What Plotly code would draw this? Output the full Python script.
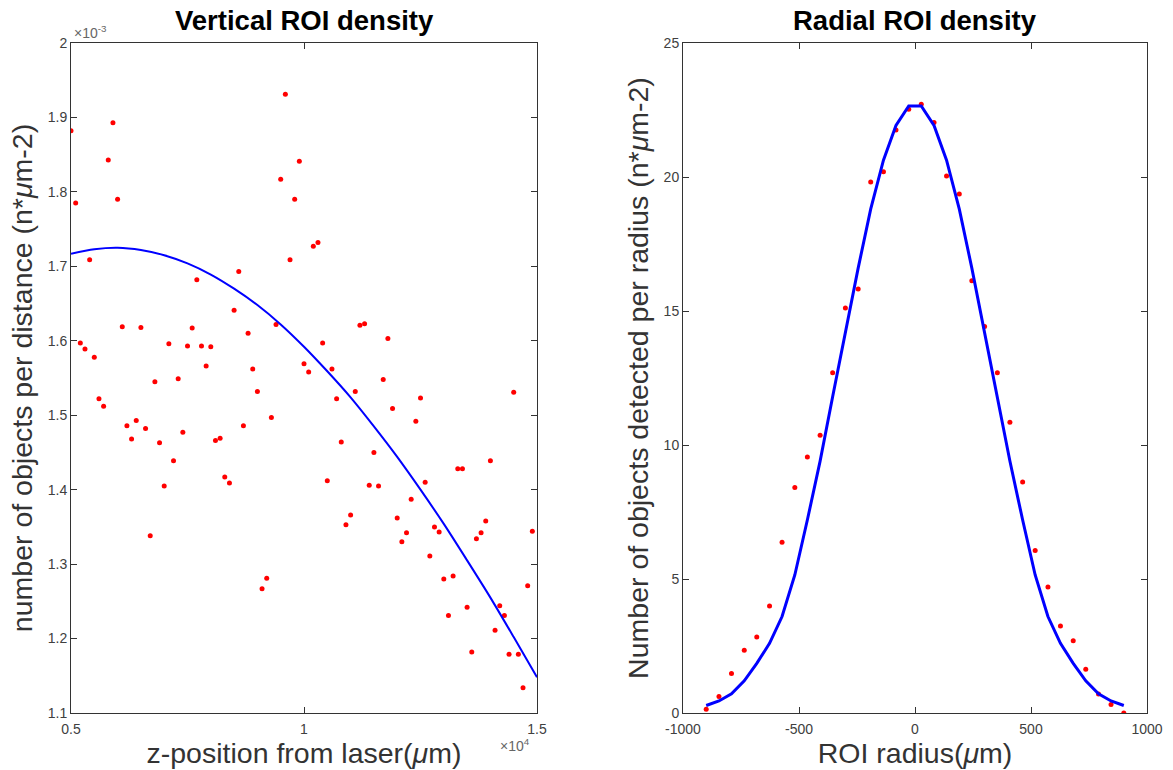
import plotly.graph_objects as go

# ---------------- Left panel: vertical ROI density ----------------
z_pos = [5000, 5100, 5200, 5300, 5400, 5500, 5600, 5700, 5800, 5900,
         6000, 6100, 6200, 6300, 6400, 6500, 6600, 6700, 6800, 6900,
         7000, 7100, 7200, 7300, 7400, 7500, 7600, 7700, 7800, 7900,
         8000, 8100, 8200, 8300, 8400, 8500, 8600, 8700, 8800, 8900,
         9000, 9100, 9200, 9300, 9400, 9500, 9600, 9700, 9800, 9900,
         10000, 10100, 10200, 10300, 10400, 10500, 10600, 10700, 10800, 10900,
         11000, 11100, 11200, 11300, 11400, 11500, 11600, 11700, 11800, 11900,
         12000, 12100, 12200, 12300, 12400, 12500, 12600, 12700, 12800, 12900,
         13000, 13100, 13200, 13300, 13400, 13500, 13600, 13700, 13800, 13900,
         14000, 14100, 14200, 14300, 14400, 14500, 14600, 14700, 14800, 14900]
# density values in units of 1e-3
density = [1.882, 1.785, 1.597, 1.589, 1.709, 1.578, 1.522, 1.512, 1.843, 1.893,
           1.790, 1.619, 1.486, 1.468, 1.493, 1.618, 1.482, 1.338, 1.545, 1.463,
           1.405, 1.596, 1.439, 1.549, 1.477, 1.593, 1.617, 1.682, 1.593, 1.566,
           1.592, 1.466, 1.469, 1.417, 1.409, 1.641, 1.693, 1.486, 1.610, 1.562,
           1.532, 1.267, 1.281, 1.497, 1.622, 1.817, 1.931, 1.709, 1.790, 1.841,
           1.569, 1.558, 1.727, 1.732, 1.597, 1.412, 1.562, 1.522, 1.464, 1.353,
           1.366, 1.532, 1.621, 1.623, 1.406, 1.450, 1.405, 1.548, 1.603, 1.509,
           1.362, 1.330, 1.342, 1.387, 1.492, 1.523, 1.410, 1.311, 1.350, 1.343,
           1.280, 1.231, 1.284, 1.428, 1.428, 1.242, 1.182, 1.334, 1.342, 1.358,
           1.439, 1.211, 1.244, 1.231, 1.179, 1.531, 1.179, 1.134, 1.271, 1.344]
# fitted curve, every 500 um
fit_z = [5000, 5500, 6000, 6500, 7000, 7500, 8000, 8500, 9000, 9500, 10000,
         10500, 11000, 11500, 12000, 12500, 13000, 13500, 14000, 14500, 15000]
fit_density = [1.717, 1.723, 1.725, 1.722, 1.715, 1.704, 1.689, 1.670, 1.648, 1.622,
               1.592, 1.559, 1.524, 1.485, 1.444, 1.400, 1.354, 1.305, 1.255, 1.202, 1.148]

left_xticks = [5000, 10000, 15000]
left_xticktext = ["0.5", "1", "1.5"]
left_yticks = [1.1, 1.2, 1.3, 1.4, 1.5, 1.6, 1.7, 1.8, 1.9, 2.0]
left_yticktext = ["1.1", "1.2", "1.3", "1.4", "1.5", "1.6", "1.7", "1.8", "1.9", "2"]

# ---------------- Right panel: radial ROI density ----------------
radius = [-900, -845, -791, -736, -682, -627, -573, -518, -464, -409, -355, -300,
          -245, -191, -136, -82, -27, 27, 82, 136, 191, 245, 300, 355, 409, 464,
          518, 573, 627, 682, 736, 791, 845, 900]
radial_count = [0.14, 0.62, 1.47, 2.34, 2.84, 3.99, 6.37, 8.41, 9.55, 10.36, 12.70,
                15.11, 15.82, 19.81, 20.20, 21.75, 22.53, 22.71, 22.03, 20.04, 19.37,
                16.13, 14.42, 12.70, 10.85, 8.62, 6.06, 4.70, 3.25, 2.70, 1.63, 0.71,
                0.32, 0.00]
radial_fit = [0.28, 0.45, 0.72, 1.20, 1.85, 2.60, 3.60, 5.15, 7.20, 9.40, 11.80,
              14.20, 16.60, 18.80, 20.63, 21.92, 22.65, 22.65, 21.92, 20.63, 18.80,
              16.60, 14.20, 11.80, 9.40, 7.20, 5.15, 3.60, 2.60, 1.85, 1.20, 0.72,
              0.45, 0.28]

right_xticks = [-1000, -500, 0, 500, 1000]
right_xticktext = ["-1000", "-500", "0", "500", "1000"]
right_yticks = [0, 5, 10, 15, 20, 25]
right_yticktext = ["0", "5", "10", "15", "20", "25"]

FONT = "Liberation Sans, Arial, Helvetica, sans-serif"
AXC = "#333333"
TICKC = "#404040"
TITLE_SIZE = 28.5

fig = go.Figure()
fig.add_trace(go.Scatter(x=z_pos, y=density, mode="markers",
                         marker=dict(color="#ff0000", size=5),
                         xaxis="x", yaxis="y", showlegend=False))
fig.add_trace(go.Scatter(x=fit_z, y=fit_density, mode="lines",
                         line=dict(color="#0000ff", width=2, shape="spline", smoothing=0.8),
                         xaxis="x", yaxis="y", showlegend=False))
fig.add_trace(go.Scatter(x=radius, y=radial_count, mode="markers",
                         marker=dict(color="#ff0000", size=5),
                         xaxis="x2", yaxis="y2", showlegend=False))
fig.add_trace(go.Scatter(x=radius, y=radial_fit, mode="lines",
                         line=dict(color="#0000ff", width=3),
                         xaxis="x2", yaxis="y2", showlegend=False))

W, H = 1173, 770
ydom = [(H - 713) / H, (H - 43) / H]

common_axis = dict(showline=True, linecolor=AXC, linewidth=1, mirror="ticks",
                   ticks="inside", ticklen=6, tickcolor=AXC, showgrid=False,
                   zeroline=False, automargin=False,
                   tickfont=dict(family=FONT, size=14, color=TICKC))

fig.update_layout(
    width=W, height=H,
    margin=dict(l=0, r=0, t=0, b=0, autoexpand=False),
    paper_bgcolor="white", plot_bgcolor="white",
    font=dict(family=FONT, color=AXC),
    xaxis=dict(domain=[71 / W, 537 / W], range=[5000, 15000],
               tickvals=left_xticks, ticktext=left_xticktext, ticklabelstandoff=3,
               title=dict(text="z-position from laser(<i>μ</i>m)",
                          font=dict(family=FONT, size=TITLE_SIZE, color=AXC), standoff=0),
               anchor="y", **common_axis),
    yaxis=dict(domain=ydom, range=[1.1, 2.0],
               tickvals=left_yticks, ticktext=left_yticktext,
               title=dict(text="number of objects per distance (n*<i>μ</i>m-2)",
                          font=dict(family=FONT, size=TITLE_SIZE, color=AXC), standoff=6),
               anchor="x", **common_axis),
    xaxis2=dict(domain=[683 / W, 1147 / W], range=[-1000, 1000],
                tickvals=right_xticks, ticktext=right_xticktext, ticklabelstandoff=3,
                title=dict(text="ROI radius(<i>μ</i>m)",
                           font=dict(family=FONT, size=TITLE_SIZE, color=AXC), standoff=0),
                anchor="y2", **common_axis),
    yaxis2=dict(domain=ydom, range=[0, 25], tickvals=right_yticks, ticktext=right_yticktext,
                title=dict(text="Number of objects detected per radius (n*<i>μ</i>m-2)",
                           font=dict(family=FONT, size=TITLE_SIZE, color=AXC), standoff=6),
                anchor="x2", **common_axis),
    annotations=[
        dict(text="<b>Vertical ROI density</b>", x=(71 + 537) / 2 / W, y=1 - 21 / H,
             xref="paper", yref="paper", showarrow=False, xanchor="center", yanchor="middle",
             font=dict(family=FONT, size=27.5, color="black")),
        dict(text="<b>Radial ROI density</b>", x=(683 + 1147) / 2 / W, y=1 - 21 / H,
             xref="paper", yref="paper", showarrow=False, xanchor="center", yanchor="middle",
             font=dict(family=FONT, size=27.5, color="black")),
        dict(text="×10<sup>-3</sup>", x=72 / W, y=1 - 32 / H,
             xref="paper", yref="paper", showarrow=False, xanchor="left", yanchor="middle",
             font=dict(family=FONT, size=14, color="#666666")),
        dict(text="×10<sup>4</sup>", x=532 / W, y=1 - 745 / H,
             xref="paper", yref="paper", showarrow=False, xanchor="right", yanchor="middle",
             font=dict(family=FONT, size=14, color="#666666")),
    ],
)

fig.write_html("out.html")
